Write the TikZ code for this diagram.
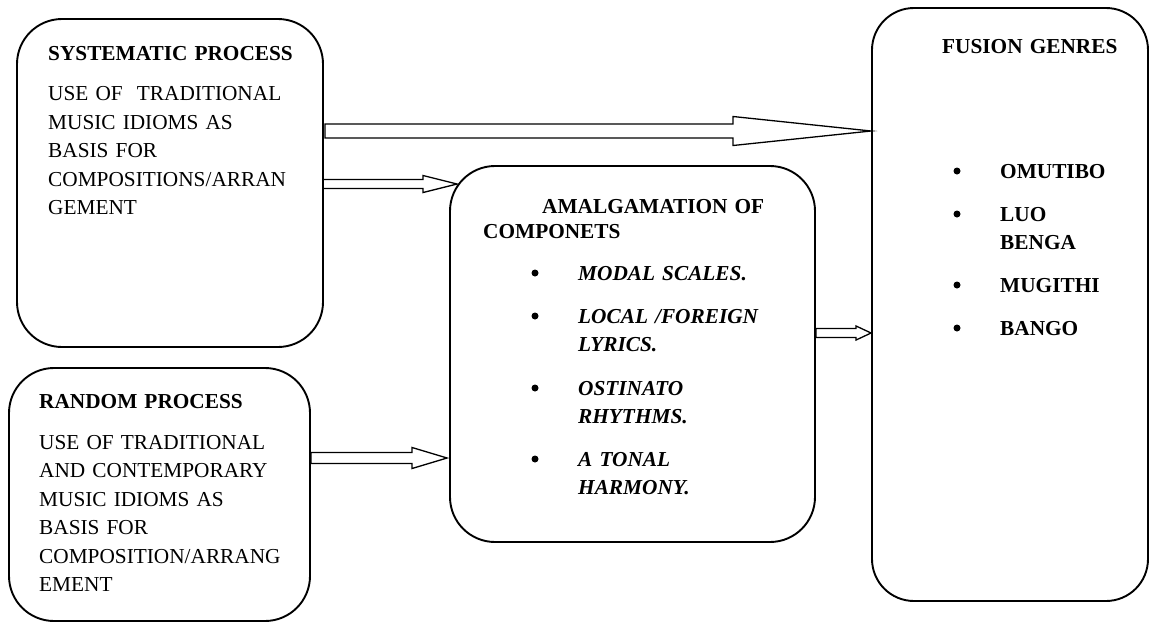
\documentclass[tikz,border=0pt]{standalone}
\usepackage{fontspec}
\setmainfont{Liberation Serif}
\usetikzlibrary{calc}
\tikzset{
  box/.style={draw, line width=1.9pt, rounded corners=45pt, inner sep=0pt},
  txt/.style={anchor=base west, inner sep=0pt, align=left, text width=320pt,
    font=\fontsize{21.3}{28.5}\selectfont},
  head/.style={txt, font=\fontsize{21.3}{28.5}\selectfont\bfseries},
  item/.style={txt, font=\fontsize{21.3}{28.5}\selectfont\bfseries\itshape},
  gitem/.style={txt, font=\fontsize{21.3}{28.5}\selectfont\bfseries},
  bul/.style={circle, fill, inner sep=0pt, minimum size=7pt},
  arrowline/.style={draw, line width=1.3pt, line join=miter}
}
\newcommand\hollowarrow[5]{%
  \draw[arrowline] ($(#1)+(0,-#3)$) -- ($(#2)+(-#5,-#3)$) -- ($(#2)+(-#5,-#4)$) -- (#2)
    -- ($(#2)+(-#5,#4)$) -- ($(#2)+(-#5,#3)$) -- ($(#1)+(0,#3)$) -- cycle;}
\begin{document}
\begin{tikzpicture}[x=1pt,y=-1pt]
\useasboundingbox (0,0) rectangle (1149,622);
% boxes
\node[box, minimum width=306pt, minimum height=328pt] (sys) at (170,183) {};
\node[box, minimum width=301pt, minimum height=253pt] (rand) at (159.5,494.5) {};
\node[box, minimum width=365pt, minimum height=376pt] (mid) at (632.5,354) {};
\node[box, minimum width=276pt, minimum height=593pt, rounded corners=42pt] (fus) at (1010,304.5) {};
% systematic text
\node[head] (sysh) at (48,60) {SYSTEMATIC PROCESS};
\node[txt] (sysb) at (48,100.5) {USE OF\ \ TRADITIONAL\\MUSIC IDIOMS AS\\BASIS FOR\\COMPOSITIONS/ARRAN\\GEMENT};
% random text
\node[head] (randh) at (39,408) {RANDOM PROCESS};
\node[txt] (randb) at (39,449) {USE OF TRADITIONAL\\AND CONTEMPORARY\\MUSIC IDIOMS AS\\BASIS FOR\\COMPOSITION/ARRANG\\EMENT};
% amalgamation text
\node[head] (midh1) at (542,213) {AMALGAMATION OF};
\node[head] (midh2) at (483,238) {COMPONETS};
\node[bul] (mb1) at (535,273) {};
\node[item] (mi1) at (578,280) {MODAL SCALES.};
\node[bul] (mb2) at (535,316) {};
\node[item] (mi2) at (578,323) {LOCAL /FOREIGN\\LYRICS.};
\node[bul] (mb3) at (535,388) {};
\node[item] (mi3) at (578,395) {OSTINATO\\RHYTHMS.};
\node[bul] (mb4) at (535,459) {};
\node[item] (mi4) at (578,466) {A TONAL\\HARMONY.};
% fusion text
\node[head] (fush) at (942,53) {FUSION GENRES};
\node[bul] (fb1) at (957,171) {};
\node[gitem] (fi1) at (1000,178) {OMUTIBO};
\node[bul] (fb2) at (957,214) {};
\node[gitem] (fi2) at (1000,221) {LUO\\BENGA};
\node[bul] (fb3) at (957,285) {};
\node[gitem] (fi3) at (1000,292) {MUGITHI};
\node[bul] (fb4) at (957,328) {};
\node[gitem] (fi4) at (1000,335) {BANGO};
% connectors
\coordinate (a1s) at ($(sys.east)+(1,-52)$);
\coordinate (a1t) at ($(fus.west)+(0,-173.5)$);
\coordinate (a2s) at ($(sys.east)+(-1,1)$);
\coordinate (a2t) at ($(mid.west)+(8,-170)$);
\coordinate (a3s) at ($(rand.east)+(0,-36.5)$);
\coordinate (a3t) at ($(mid.west)+(-2,104)$);
\coordinate (a4s) at ($(mid.east)+(0,-21)$);
\coordinate (a4t) at ($(fus.west)+(0,28.5)$);
\hollowarrow{a1s}{a1t}{7}{14.5}{138}
\hollowarrow{a2s}{a2t}{4.5}{8.5}{34}
\hollowarrow{a3s}{a3t}{5.5}{10.5}{35}
\hollowarrow{a4s}{a4t}{4.5}{7}{15}
\end{tikzpicture}
\end{document}
